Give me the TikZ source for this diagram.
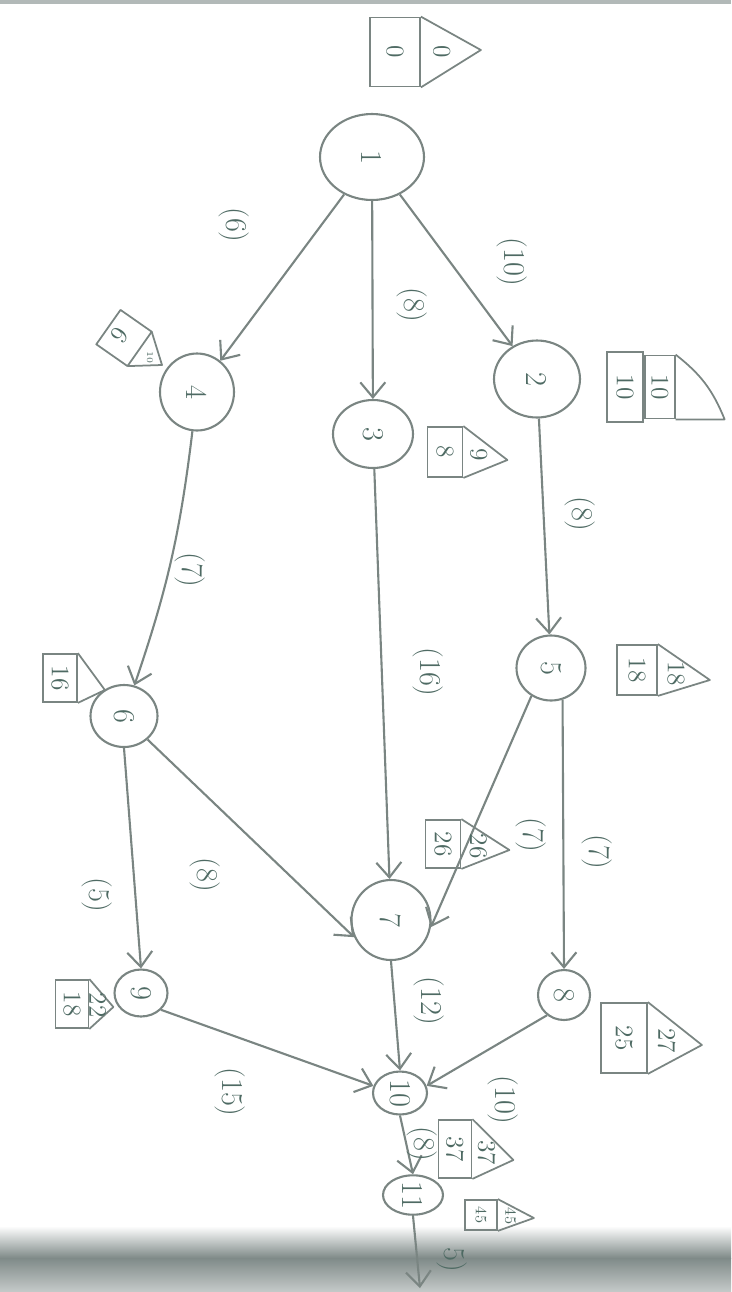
\documentclass[tikz,border=0pt]{standalone}
\usetikzlibrary{arrows.meta, calc, shapes.geometric, positioning}
\definecolor{pencil}{HTML}{7A8582}
\definecolor{ink}{HTML}{4E6A63}
\definecolor{pagegray}{HTML}{7F8A88}
\newcommand{\rtxt}[1]{\rotatebox{-90}{#1}}
\tikzset{
  % evento del reticolo
  evt/.style={ellipse, draw=pencil, line width=1.2pt, inner sep=0pt, font=\LARGE, text=ink},
  % attivita' (freccia a mano)
  act/.style={-{Straight Barb[length=3mm, width=5mm]}, draw=pencil, line width=1.2pt},
  % durata dell'attivita'
  dur/.style={font=\LARGE, text=ink, rotate=-90, inner sep=1pt},
  % tempo al piu' presto (rettangolo)
  early/.style={draw=pencil, line width=1pt, inner sep=0pt, text=ink},
  % tempo al piu' tardi (triangolo)
  late/.style={text=ink, rotate=-90, inner sep=0pt},
  tri/.style={draw=pencil, line width=1pt, line join=round},
}

\begin{document}
\begin{tikzpicture}[x=0.02cm, y=-0.02cm]
  \useasboundingbox (0,0) rectangle (731,1292);
  % bordo del foglio
  \shade[top color=white, bottom color=pagegray] (0,1226) rectangle (731,1258);
  \shade[top color=pagegray, bottom color=pagegray!45] (0,1258) rectangle (731,1292);
  \fill[pagegray!60] (0,0) rectangle (731,4);

  % eventi
  \node[evt, minimum width=2.08cm, minimum height=1.72cm] (n1) at (372,157) {\rtxt{1}};
  \node[evt, minimum width=1.72cm, minimum height=1.54cm] (n2) at (537,379) {\rtxt{2}};
  \node[evt, minimum width=1.60cm, minimum height=1.36cm] (n3) at (373,434) {\rtxt{3}};
  \node[evt, minimum width=1.48cm, minimum height=1.54cm] (n4) at (197,392) {\rtxt{4}};
  \node[evt, minimum width=1.38cm, minimum height=1.30cm] (n5) at (551,668) {\rtxt{5}};
  \node[evt, minimum width=1.34cm, minimum height=1.24cm] (n6) at (124,716) {\rtxt{6}};
  \node[evt, minimum width=1.58cm, minimum height=1.60cm] (n7) at (391,920) {\rtxt{7}};
  \node[evt, minimum width=1.04cm, minimum height=1.00cm] (n8) at (564,995) {\rtxt{8}};
  \node[evt, minimum width=1.06cm, minimum height=0.94cm] (n9) at (141,993) {\rtxt{9}};
  \node[evt, minimum width=1.08cm, minimum height=0.86cm] (n10) at (400,1093) {\rtxt{10}};
  \node[evt, minimum width=1.20cm, minimum height=0.74cm] (n11) at (413,1195) {\rtxt{11}};
  \coordinate (out) at (420,1288);

  % attivita'
  \draw[act] (n1) -- (n4);
  \draw[act] (n1) -- (n3);
  \draw[act] (n1) -- (n2);
  \draw[act] (n2) -- (n5);
  \draw[act] (n4) to[bend left=6] (n6);
  \draw[act] (n3) -- (n7);
  \draw[act] (n5.235) -- (n7.-10);
  \draw[act] (n5.-70) -- (n8.north);
  \draw[act] (n6.-45) -- (n7.205);
  \draw[act] (n6.south) -- (n9.north);
  \draw[act] (n7.south) -- (n10.north);
  \draw[act] (n8.230) -- (n10.15);
  \draw[act] (n9.-40) -- (n10.165);
  \draw[act] (n10.south) -- (n11.north);
  \draw[act] (n11.south) -- (out);

  % durate
  \node[dur] (d14) at (234,225) {(6)};
  \node[dur] (d13) at (412,305) {(8)};
  \node[dur] (d12) at (512,262) {(10)};
  \node[dur] (d25) at (580,514) {(8)};
  \node[dur] (d46) at (190,570) {(7)};
  \node[dur] (d37) at (428,672) {(16)};
  \node[dur] (d57) at (531,835) {(7)};
  \node[dur] (d58) at (597,852) {(7)};
  \node[dur] (d67) at (205,875) {(8)};
  \node[dur] (d69) at (97,895) {(5)};
  \node[dur] (d710) at (429,1001) {(12)};
  \node[dur] (d910) at (230,1092) {(15)};
  \node[dur] (d810) at (503,1100) {(10)};
  \node[dur] (d1011) at (422,1144) {(8)};
  \node[dur] (d11o) at (452,1260) {5)};

  % tempi degli eventi
  \foreach \b/\x/\y/\w/\h/\dx/\dy/\es/\ls/\fs in {
      b1/395/52/50/69/60/-2/0/0/\Large,
      b3/445/452/35/50/44/8/8/9/\Large,
      b5/637/670/40/50/52/10/18/18/\Large,
      b6/60/678/34/48/27/12/16/{}/\Large,
      b7/443/844/35/48/48/6/26/26/\Large,
      b8/624/1038/46/70/54/7/25/27/\Large,
      b9/72/1004/33/48/24/3/18/22/\Large,
      b10/455/1149/33/58/41/11/37/37/\Large,
      b11/481/1215/32/30/36/3/45/45/\small}{
    \node[early, font=\fs, minimum width=\w*0.02cm, minimum height=\h*0.02cm]
      (\b) at (\x,\y) {\rtxt{\es}};
    \coordinate (\b-tip) at ($(\b.east)+(\dx,\dy)$);
    \draw[tri] (\b.north east) -- (\b-tip) -- (\b.south east);
    \node[late, font=\fs] at ($(\b.north east)!0.5!(\b.south east)!0.35!(\b-tip)$) {\ls};
  }
  % evento 2: due rettangoli
  \node[early, font=\Large, minimum width=0.72cm, minimum height=1.40cm] (b2) at (625,387) {\rtxt{10}};
  \node[early, font=\Large, minimum width=0.60cm, minimum height=1.26cm, anchor=west] (b2b) at (b2.east) {\rtxt{10}};
  \coordinate (b2-tip) at ($(b2b.south east)+(49,0)$);
  \draw[tri] (b2b.north east) to[bend left=15] (b2-tip) -- (b2b.south east);
  % evento 4: riquadro inclinato
  \coordinate (b4-tl) at (120.5,309.9);
  \coordinate (b4-tr) at (151.7,331.7);
  \coordinate (b4-br) at (127.5,366.1);
  \coordinate (b4-bl) at (96.3,344.3);
  \coordinate (b4-tip) at (162,365);
  \draw[tri] (b4-tl) -- (b4-tr) -- (b4-br) -- (b4-bl) -- cycle;
  \draw[tri] (b4-tr) -- (b4-tip) -- (b4-br);
  \node[late, font=\Large, rotate=-35] (b4) at (120,335) {6};
  \node[late, font=\tiny] (b4l) at (150,357) {10};
\end{tikzpicture}
\end{document}
